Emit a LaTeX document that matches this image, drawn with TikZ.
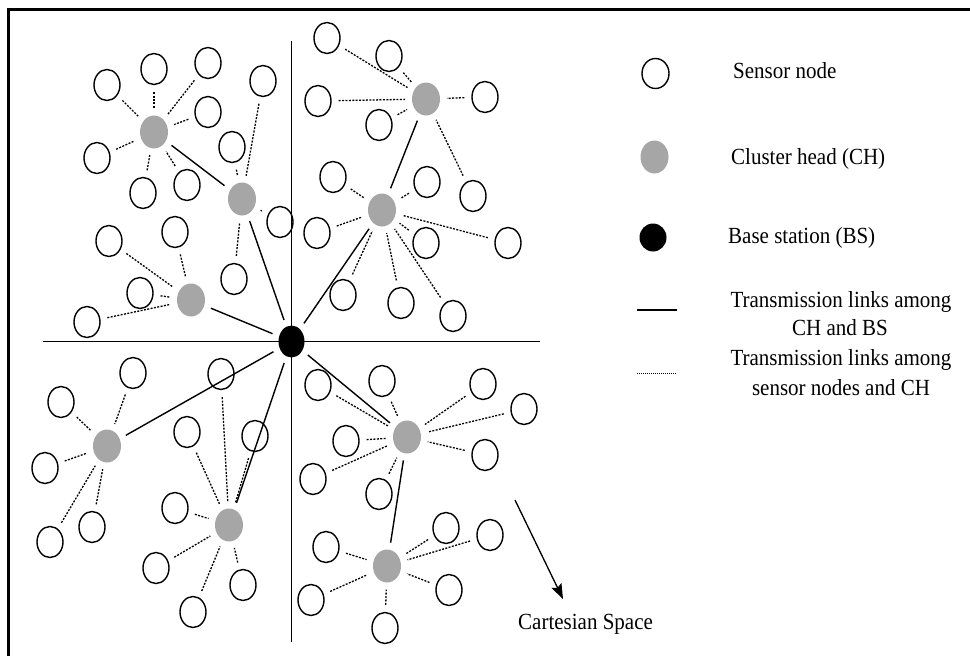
\documentclass[tikz,border=0pt]{standalone}
\usepackage{fontspec}
\setmainfont{Liberation Serif}
\usetikzlibrary{shapes.geometric,arrows.meta}
\definecolor{chgray}{RGB}{166,166,166}
\newcommand{\tallt}[1]{\scalebox{1}[1.1]{#1}}
\tikzset{
  sn/.style={ellipse,draw=black,line width=1.4pt,minimum width=26pt,minimum height=31pt,inner sep=0pt},
  chn/.style={ellipse,fill=chgray,minimum width=28pt,minimum height=33pt,inner sep=0pt},
  bsn/.style={ellipse,fill=black,minimum width=26pt,minimum height=32pt,inner sep=0pt},
  solidlink/.style={line width=1.4pt,shorten >=7pt,shorten <=7pt},
  dotlink/.style={line width=1.3pt,dash pattern=on 2pt off 1.4pt,shorten >=7pt,shorten <=7pt},
  axis/.style={line width=1.2pt},
  lbl/.style={font=\fontsize{21}{25}\selectfont,inner sep=0pt}
}
\begin{document}
\begin{tikzpicture}[x=1pt,y=-1pt]
\useasboundingbox (0,0) rectangle (970,656);
% frame
\coordinate (f1) at (8.7,656);
\coordinate (f2) at (8.7,9);
\coordinate (f3) at (970,9);
\draw[line width=3pt] (f1) -- (f2) -- (f3);
% axes
\coordinate (ay1) at (291.5,41);
\coordinate (ay2) at (291.5,642);
\coordinate (ax1) at (43,341.7);
\coordinate (ax2) at (540,341.7);
\draw[axis] (ay1) -- (ay2);
\draw[axis] (ax1) -- (ax2);
% base station
\node[bsn] (bs) at (291.5,341.5) {};
% cluster heads
\node[chn] (a1) at (154,132) {};
\node[chn] (a2) at (242,199) {};
\node[chn] (a3) at (191,300) {};
\node[chn] (b1) at (426,99) {};
\node[chn] (b2) at (382,210) {};
\node[chn] (c1) at (107,446) {};
\node[chn] (c2) at (229,525) {};
\node[chn] (d1) at (407,437) {};
\node[chn] (d2) at (387,566) {};
% sensor nodes
\node[sn] (s1) at (107,85) {};
\node[sn] (s2) at (154,69) {};
\node[sn] (s3) at (208,63) {};
\node[sn] (s4) at (263,81) {};
\node[sn] (s5) at (208,112) {};
\node[sn] (s6) at (97,158) {};
\node[sn] (s7) at (232,147) {};
\node[sn] (s8) at (143,193) {};
\node[sn] (s9) at (187,185) {};
\node[sn] (s10) at (280,222) {};
\node[sn] (s11) at (109,241) {};
\node[sn] (s12) at (175,232) {};
\node[sn] (s13) at (234,279) {};
\node[sn] (s14) at (140,293) {};
\node[sn] (s15) at (87,322) {};
\node[sn] (s16) at (327,38) {};
\node[sn] (s17) at (389,56) {};
\node[sn] (s18) at (318,101) {};
\node[sn] (s19) at (485,97) {};
\node[sn] (s20) at (379,125) {};
\node[sn] (s21) at (333,177) {};
\node[sn] (s22) at (427,182) {};
\node[sn] (s23) at (473,196) {};
\node[sn] (s24) at (317,233) {};
\node[sn] (s25) at (426,243) {};
\node[sn] (s26) at (508,243) {};
\node[sn] (s27) at (343,295) {};
\node[sn] (s28) at (401,303) {};
\node[sn] (s29) at (453,316) {};
\node[sn] (s30) at (133,373) {};
\node[sn] (s31) at (61,402) {};
\node[sn] (s32) at (221,374) {};
\node[sn] (s33) at (187,432) {};
\node[sn] (s34) at (255,436) {};
\node[sn] (s35) at (45,468) {};
\node[sn] (s36) at (175,508) {};
\node[sn] (s37) at (50,542) {};
\node[sn] (s38) at (92,527) {};
\node[sn] (s39) at (156,568) {};
\node[sn] (s40) at (243,585) {};
\node[sn] (s41) at (193,612) {};
\node[sn] (s42) at (318,385) {};
\node[sn] (s43) at (382,381) {};
\node[sn] (s44) at (483,384) {};
\node[sn] (s45) at (524,409) {};
\node[sn] (s46) at (346,441) {};
\node[sn] (s47) at (313,479) {};
\node[sn] (s48) at (485,455) {};
\node[sn] (s49) at (379,494) {};
\node[sn] (s50) at (446,528) {};
\node[sn] (s51) at (490,535) {};
\node[sn] (s52) at (326,547) {};
\node[sn] (s53) at (449,590) {};
\node[sn] (s54) at (311,600) {};
\node[sn] (s55) at (385,628) {};
% solid links (CH - BS)
\draw[solidlink] (a1) -- (a2);
\draw[solidlink] (a2) -- (bs);
\draw[solidlink] (a3) -- (bs);
\draw[solidlink] (b1) -- (b2);
\draw[solidlink] (b2) -- (bs);
\draw[solidlink] (c1) -- (bs);
\draw[solidlink] (c2) -- (bs);
\draw[solidlink] (d1) -- (bs);
\draw[solidlink] (d1) -- (d2);
% dotted links (sensor - CH)
\foreach \s in {s1,s2,s3,s5,s6,s8,s9} \draw[dotlink] (\s) -- (a1);
\foreach \s in {s4,s7,s10,s13} \draw[dotlink] (\s) -- (a2);
\foreach \s in {s11,s12,s14,s15} \draw[dotlink] (\s) -- (a3);
\foreach \s in {s16,s17,s18,s19,s20,s23} \draw[dotlink] (\s) -- (b1);
\foreach \s in {s21,s22,s24,s25,s26,s27,s28,s29} \draw[dotlink] (\s) -- (b2);
\foreach \s in {s30,s31,s35,s37,s38} \draw[dotlink] (\s) -- (c1);
\foreach \s in {s32,s33,s34,s36,s39,s40,s41} \draw[dotlink] (\s) -- (c2);
\foreach \s in {s42,s43,s44,s45,s46,s47,s48,s49} \draw[dotlink] (\s) -- (d1);
\foreach \s in {s50,s51,s52,s53,s54,s55} \draw[dotlink] (\s) -- (d2);
% legend
\node[sn,minimum width=27pt,minimum height=30pt] (lsn) at (655.5,73.5) {};
\node[lbl,anchor=base west] (tsn) at (733,78) {\tallt{Sensor node}};
\node[chn] (lch) at (654.5,157) {};
\node[lbl,anchor=base west] (tch) at (731,164) {\tallt{Cluster head (CH)}};
\node[bsn,minimum width=27pt,minimum height=28pt] (lbs) at (653,237.5) {};
\node[lbl,anchor=base west] (tbs) at (728,243) {\tallt{Base station (BS)}};
\coordinate (ls1) at (637,310);
\coordinate (ls2) at (677,310);
\draw[line width=1.6pt] (ls1) -- (ls2);
\coordinate (ld1) at (637,373);
\coordinate (ld2) at (677,373);
\draw[line width=0.9pt,dash pattern=on 1pt off 1pt] (ld1) -- (ld2);
\node[lbl,anchor=base] (t1a) at (841,307) {\tallt{Transmission links among}};
\node[lbl,anchor=base] (t1b) at (840,335) {\tallt{CH and BS}};
\node[lbl,anchor=base] (t2a) at (841,365) {\tallt{Transmission links among}};
\node[lbl,anchor=base] (t2b) at (841,395) {\tallt{sensor nodes and CH}};
% Cartesian space arrow
\coordinate (ca) at (515,500);
\coordinate (cb) at (563,599);
\draw[line width=1.3pt,-{Stealth[length=15pt,width=11pt,inset=2.5pt]}] (ca) -- (cb);
\node[lbl,anchor=base west] (tcs) at (518,629) {\tallt{Cartesian Space}};
\end{tikzpicture}
\end{document}
